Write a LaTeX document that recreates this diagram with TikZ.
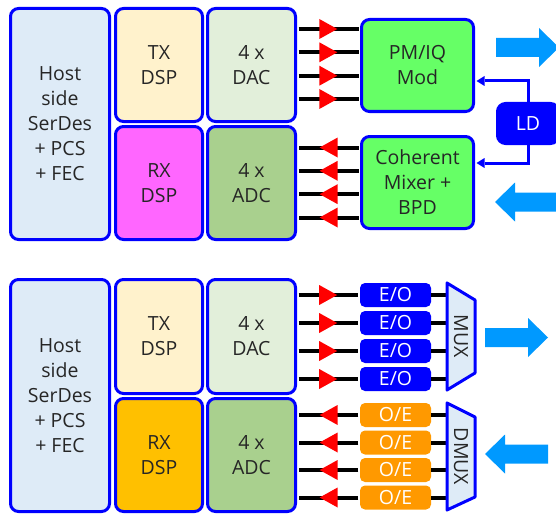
\documentclass[tikz,border=0pt]{standalone}
\usepackage{fontspec}
\setmainfont{Open Sans}
\usetikzlibrary{arrows.meta,decorations.markings}

\definecolor{hostblue}{HTML}{DEEBF7}
\definecolor{txyellow}{HTML}{FFF2CC}
\definecolor{rxpink}{HTML}{FF66FF}
\definecolor{rxgold}{HTML}{FFC000}
\definecolor{dacgreen}{HTML}{E2EFDA}
\definecolor{adcgreen}{HTML}{A9D08E}
\definecolor{modgreen}{HTML}{66FF66}
\definecolor{edgeblue}{HTML}{0000FF}
\definecolor{beamblue}{HTML}{0099FF}
\definecolor{oeorange}{HTML}{FF9900}
\definecolor{ink}{HTML}{262626}

\begin{document}
\begin{tikzpicture}[x=1pt,y=-1pt,
    font=\fontsize{19.5}{25}\selectfont,
    block/.style={draw=edgeblue, line width=3pt, rounded corners=8pt, text=ink, align=center, inner sep=0pt},
    conv/.style={fill=#1, rounded corners=5pt, text=white, minimum width=71pt, minimum height=24pt, inner sep=0pt},
    lane/.style={line width=4pt, shorten <=1.5pt, shorten >=1.5pt},
    lanetip/.style={lane, decoration={markings, mark=at position 0.64 with {\arrow{Triangle[width=20pt,length=18pt,line width=0pt,red]}}}, postaction={decorate}},
    ldfeed/.style={draw=edgeblue, line width=3pt, shorten >=1.5pt, -{Triangle[width=10pt,length=8pt,line width=0pt]}},
    muxbox/.style={fill=hostblue, draw=edgeblue, line width=3pt, line join=round}]

  \useasboundingbox (0,0) rectangle (556,516);
  \clip (0,0) rectangle (556,516);

  % coherent transceiver
  \node[block, fill=hostblue, minimum width=99pt, minimum height=231pt] (host) at (60,124) {Host\\side\\SerDes\\+ PCS\\+ FEC};
  \node[block, fill=txyellow, minimum width=87pt, minimum height=113pt] (txdsp) at (159,65) {TX\\DSP};
  \node[block, fill=rxpink, minimum width=87pt, minimum height=113pt] (rxdsp) at (159,183) {RX\\DSP};
  \node[block, fill=dacgreen, minimum width=88pt, minimum height=113pt] (dac) at (251.5,65) {4 x\\DAC};
  \node[block, fill=adcgreen, minimum width=88pt, minimum height=113pt] (adc) at (251.5,183) {4 x\\ADC};
  \node[block, fill=modgreen, minimum width=112pt, minimum height=92pt] (mod) at (417.5,65.5) {PM/IQ\\Mod};
  \node[block, fill=modgreen, minimum width=112pt, minimum height=92pt] (coh) at (417.5,182.5) {Coherent\\Mixer +\\BPD};
  \node[block, draw=edgeblue, fill=edgeblue, text=white, minimum width=61pt, minimum height=40pt] (ld) at (528,123.5) {LD};

  \foreach \y in {29,52.3,75.7,99}
    \draw[lanetip] (dac.east |- 0,\y) -- (mod.west |- 0,\y);
  \foreach \y in {147.5,170.8,194.2,217.5}
    \draw[lanetip] (coh.west |- 0,\y) -- (adc.east |- 0,\y);

  \draw[ldfeed] (ld.north) |- (mod.east |- 0,81);
  \draw[ldfeed] (ld.south) |- (coh.east |- 0,163);

  \begin{scope}[shift={(496,47.5)}]
    \fill[beamblue] (0,-9.5) -- (43,-9.5) -- (43,-19.5) -- (63,0) -- (43,19.5) -- (43,9.5) -- (0,9.5) -- cycle;
  \end{scope}
  \begin{scope}[shift={(558,202)}, xscale=-1]
    \fill[beamblue] (0,-9.5) -- (43,-9.5) -- (43,-19.5) -- (63,0) -- (43,19.5) -- (43,9.5) -- (0,9.5) -- cycle;
  \end{scope}

  % direct detect transceiver
  \node[block, fill=hostblue, minimum width=99pt, minimum height=232pt] (host2) at (60,395.5) {Host\\side\\SerDes\\+ PCS\\+ FEC};
  \node[block, fill=txyellow, minimum width=87pt, minimum height=114pt] (txdsp2) at (159,336.5) {TX\\DSP};
  \node[block, fill=rxgold, minimum width=87pt, minimum height=113pt] (rxdsp2) at (159,455) {RX\\DSP};
  \node[block, fill=dacgreen, minimum width=88pt, minimum height=114pt] (dac2) at (251.5,336.5) {4 x\\DAC};
  \node[block, fill=adcgreen, minimum width=88pt, minimum height=113pt] (adc2) at (251.5,455) {4 x\\ADC};

  \foreach \i/\y in {1/295,2/323,3/351,4/379}
    \node[conv=edgeblue] (eo\i) at (395.5,\y) {E/O};
  \foreach \i/\y in {1/415,2/442.5,3/470,4/497.5}
    \node[conv=oeorange] (oe\i) at (395.5,\y) {O/E};

  \coordinate (muxin) at (447,336.5);
  \coordinate (dmuxin) at (447,456.5);

  \foreach \i in {1,...,4} {
    \draw[lanetip] (dac2.east |- eo\i.west) -- (eo\i.west);
    \draw[lane, shorten <=0pt] (eo\i.east) -- (eo\i.east -| muxin);
    \draw[lanetip] (oe\i.west) -- (adc2.east |- oe\i.west);
    \draw[lane, shorten >=0pt] (oe\i.east -| dmuxin) -- (oe\i.east);
  }

  \draw[muxbox] (447,283) -- (475,300) -- (475,373) -- (447,390) -- cycle;
  \node[rotate=-90, text=ink] (mux) at (461,336.5) {MUX};
  \draw[muxbox] (447,403) -- (475,417) -- (475,497) -- (447,510) -- cycle;
  \node[rotate=-90, text=ink] (dmux) at (461,456.5) {DMUX};

  \begin{scope}[shift={(485,337.5)}]
    \fill[beamblue] (0,-9.5) -- (43,-9.5) -- (43,-19.5) -- (63,0) -- (43,19.5) -- (43,9.5) -- (0,9.5) -- cycle;
  \end{scope}
  \begin{scope}[shift={(548,454)}, xscale=-1]
    \fill[beamblue] (0,-9.5) -- (43,-9.5) -- (43,-19.5) -- (63,0) -- (43,19.5) -- (43,9.5) -- (0,9.5) -- cycle;
  \end{scope}
\end{tikzpicture}
\end{document}
